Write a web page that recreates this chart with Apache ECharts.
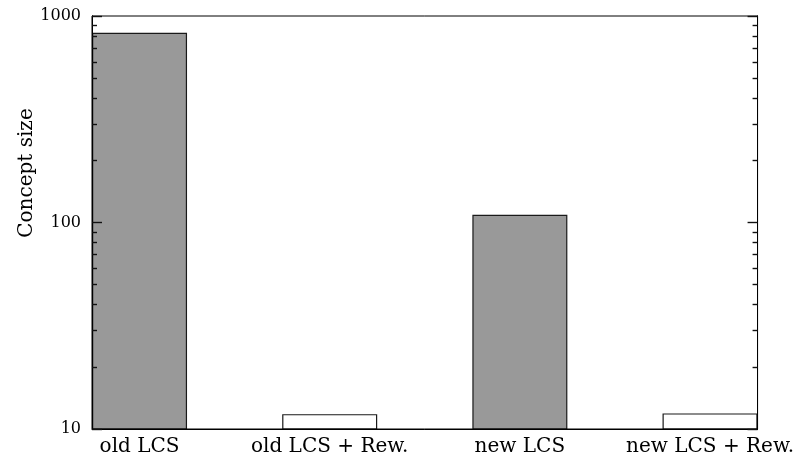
<!DOCTYPE html>
<html>
<head>
<meta charset="utf-8">
<script src="https://cdn.jsdelivr.net/npm/echarts@6/dist/echarts.min.js"></script>
<style>html,body{margin:0;padding:0;background:#fff}#c{width:797px;height:457px}</style>
</head>
<body>
<div id="c"></div>
<script>
// Data
const categories = ['old LCS', 'old LCS + Rew.', 'new LCS', 'new LCS + Rew.'];
const conceptSize = [830, 11.8, 109, 11.9];
const withRewriting = [false, true, false, true];
const yTickLabels = [10, 100, 1000];
const yMinorTicks = [20, 30, 40, 50, 60, 70, 80, 90, 200, 300, 400, 500, 600, 700, 800, 900];
const yAxisName = 'Concept size';

const FONT = 'DejaVu Serif';
const chart = echarts.init(document.getElementById('c'), null, {renderer: 'canvas'});

function yAxisBase(pos, showLabels, customTicks, len) {
  return {
    type: 'log', logBase: 10, min: 10, max: 1000, position: pos,
    axisLine: {show: true, onZero: false, lineStyle: {color: '#000', width: 1}},
    axisTick: Object.assign({show: true, inside: true, length: len, lineStyle: {color: '#111', width: 1.4}},
      customTicks ? {customValues: customTicks} : {}),
    axisLabel: showLabels ? {
      show: true, margin: 11, fontFamily: FONT, fontSize: 16, color: '#000',
      customValues: yTickLabels,
      formatter: v => String(Math.round(v))
    } : {show: false},
    splitLine: {show: false}
  };
}

chart.setOption({
  animation: false,
  backgroundColor: '#fff',
  grid: {left: 92, top: 16, width: 666, height: 414, show: true, borderColor: '#000', borderWidth: 1},
  xAxis: {
    type: 'value', min: -0.25, max: categories.length - 0.75,
    axisLine: {show: true, onZero: false, lineStyle: {color: '#000', width: 1}},
    axisTick: {show: false},
    splitLine: {show: false},
    axisLabel: {
      show: true, margin: 8, fontFamily: FONT, fontSize: 20, color: '#000',
      customValues: categories.map((c, i) => i),
      formatter: v => categories[Math.round(v)] || ''
    }
  },
  yAxis: [
    yAxisBase('left', true, null, 10),
    yAxisBase('left', false, yMinorTicks, 5),
    yAxisBase('right', false, null, 10),
    yAxisBase('right', false, yMinorTicks, 5)
  ],
  graphic: [{
    type: 'text', x: 27, y: 173, rotation: Math.PI / 2,
    style: {text: yAxisName, fontFamily: FONT, fontSize: 20, fill: '#000', align: 'center', verticalAlign: 'middle'}
  }],
  series: [{
    type: 'bar', yAxisIndex: 0, barWidth: 95, z: -1,
    data: conceptSize.map((v, i) => [i, v]),
    itemStyle: {
      color: p => withRewriting[p.dataIndex] ? '#ffffff' : '#999999',
      borderColor: '#1a1a1a', borderWidth: 1.2
    }
  }]
});
</script>
</body>
</html>
